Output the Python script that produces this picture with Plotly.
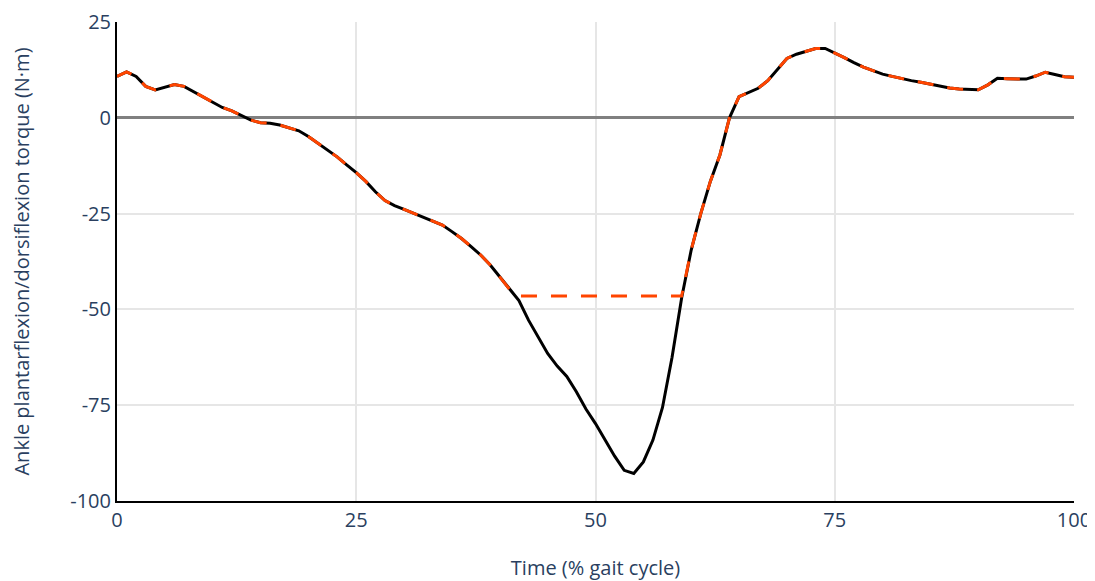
import plotly.graph_objects as go

time_pct = list(range(0, 101))
torque = [
    10.8, 12.0, 10.8, 8.2, 7.3, 7.9, 8.7, 8.2, 6.8, 5.3,
    4.0, 2.7, 1.8, 0.6, -0.6, -1.3, -1.4, -1.9, -2.6, -3.4,
    -4.9, -6.7, -8.5, -10.2, -12.3, -14.3, -16.6, -19.3, -21.6, -22.9,
    -23.9, -24.9, -25.9, -26.8, -28.0, -29.7, -31.5, -33.6, -35.8, -38.4,
    -41.5, -44.7, -47.7, -52.8, -57.3, -61.5, -64.8, -67.5, -71.5, -76.0,
    -79.8, -84.0, -88.3, -92.0, -92.8, -89.8, -84.1, -75.6, -62.5, -47.0,
    -34.5, -25.0, -16.6, -9.7, 0.0, 5.5, 6.6, 7.7, 9.7, 12.6,
    15.5, 16.6, 17.4, 18.1, 18.1, 17.0, 15.7, 14.4, 13.2, 12.3,
    11.4, 10.8, 10.2, 9.7, 9.3, 8.8, 8.3, 7.8, 7.5, 7.4,
    7.3, 8.6, 10.3, 10.2, 10.1, 10.1, 10.9, 11.9, 11.3, 10.7,
    10.6,
]
torque_limit = -46.5
limited_torque = [max(v, torque_limit) for v in torque]

x_ticks = [0, 25, 50, 75, 100]
x_tick_labels = ["0", "25", "50", "75", "100"]
y_ticks = [-100, -75, -50, -25, 0, 25]
y_tick_labels = ["-100", "-75", "-50", "-25", "0", "25"]

fig = go.Figure()
fig.add_trace(go.Scatter(x=time_pct, y=torque, mode="lines",
                         line=dict(color="black", width=3), showlegend=False))
fig.add_trace(go.Scatter(x=time_pct, y=limited_torque, mode="lines",
                         line=dict(color="#ff4500", width=3, dash="16px,14px"),
                         showlegend=False))

font_color = "#2a3f5f"
fig.update_layout(
    width=1095, height=581,
    margin=dict(l=109, r=29, t=14, b=88),
    paper_bgcolor="white", plot_bgcolor="white",
    font=dict(family="Open Sans", size=17, color=font_color),
    xaxis=dict(range=[0, 100], tickvals=x_ticks, ticktext=x_tick_labels,
               tickfont=dict(size=20), automargin=False,
               showgrid=True, gridcolor="#e6e6e6",
               gridwidth=2, zeroline=False, showline=True, linecolor="black",
               linewidth=2, ticks="", title=dict(text="Time (% gait cycle)", standoff=29)),
    yaxis=dict(range=[-100, 25], tickvals=y_ticks, ticktext=y_tick_labels,
               tickfont=dict(size=20), automargin=False,
               showgrid=True, gridcolor="#e6e6e6",
               gridwidth=2, zeroline=True, zerolinecolor="#808080", zerolinewidth=2.5,
               showline=True, linecolor="black", linewidth=2, ticks="",
               title=dict(text="Ankle plantarflexion/dorsiflexion torque (N·m)", standoff=39)),
)

fig.write_html("out.html")
